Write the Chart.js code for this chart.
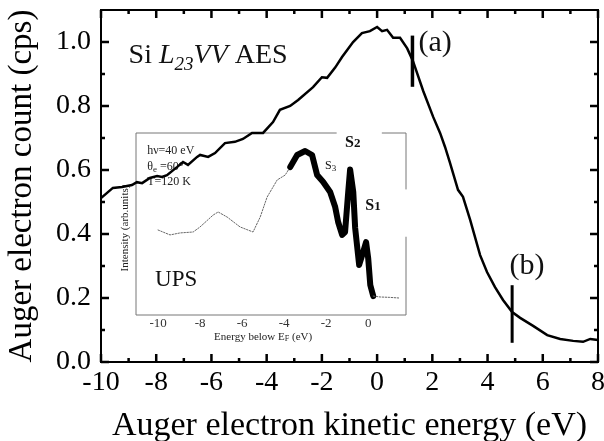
<!DOCTYPE html>
<html>
<head>
<meta charset="utf-8">
<script src="https://cdn.jsdelivr.net/npm/chart.js@4.4.1/dist/chart.umd.min.js"></script>
<style>
  html, body { margin: 0; padding: 0; background: #fff; }
  #wrap { position: relative; width: 604px; height: 441px; }
  #mainChart { position: absolute; left: 0; top: 0; z-index: 2; }
  #insetChart { position: absolute; left: 115px; top: 128px; z-index: 1; }
</style>
</head>
<body>
<div id="wrap">
  <canvas id="insetChart" width="300" height="222"></canvas>
  <canvas id="mainChart" width="604" height="441"></canvas>
</div>
<script>
// Si L23VV Auger spectrum (main plot)
const energy = [-10, -9.57, -9.24, -8.88, -8.70, -8.51, -8.23, -7.97, -7.79, -7.61, -7.25, -7.03, -6.85,
  -6.52, -6.41, -6.12, -5.87, -5.51, -5.15, -4.86, -4.53, -4.13, -3.77, -3.52, -3.15, -2.86, -2.32,
  -2.0, -1.81, -1.52, -1.27, -0.87, -0.55, -0.26, 0.0, 0.18, 0.36, 0.58, 0.83, 1.09, 1.30, 1.67,
  2.03, 2.28, 2.46, 2.64, 2.93, 3.11, 3.37, 3.73, 3.98, 4.27, 4.56, 4.89, 5.18, 5.65, 6.16, 6.63,
  7.10, 7.46, 7.72, 8.0];
const counts = [0.512, 0.544, 0.547, 0.553, 0.562, 0.559, 0.575, 0.581, 0.578, 0.584, 0.609, 0.625, 0.616,
  0.641, 0.647, 0.641, 0.653, 0.684, 0.688, 0.697, 0.716, 0.716, 0.750, 0.788, 0.800, 0.819, 0.859,
  0.890, 0.888, 0.920, 0.953, 1.000, 1.028, 1.034, 1.047, 1.034, 1.038, 1.013, 1.013, 0.980, 0.940, 0.847,
  0.766, 0.716, 0.672, 0.622, 0.538, 0.516, 0.444, 0.334, 0.281, 0.234, 0.194, 0.156, 0.138, 0.113, 0.084, 0.072,
  0.066, 0.063, 0.072, 0.069];

// vertical markers (a) and (b)
const markerAX = [1.28, 1.28];
const markerAY = [0.86, 1.02];
const markerBX = [4.89, 4.89];
const markerBY = [0.06, 0.24];

const xRange = [-10, 8];
const yRange = [0, 1.1];
const xTicks = [-10, -8, -6, -4, -2, 0, 2, 4, 6, 8];
const xMinor = [-9, -7, -5, -3, -1, 1, 3, 5, 7];
const yTicks = [0, 0.2, 0.4, 0.6, 0.8, 1.0];
const yMinor = [0.1, 0.3, 0.5, 0.7, 0.9];

// UPS inset
const upsEnergy = [-10, -9.43, -8.95, -8.33, -8.0, -7.38, -7.14, -6.71, -6.1, -5.48, -5.14, -4.81, -4.33,
  -3.95, -3.71, -3.38, -3.0, -2.67, -2.43, -2.14, -1.81, -1.57, -1.43, -1.24, -1.10, -0.95, -0.86, -0.71,
  -0.62, -0.43, -0.24, -0.10, 0.0, 0.10, 0.24, 0.57, 1.0, 1.52];
const upsIntensity = [4.67, 4.40, 4.51, 4.56, 4.84, 5.49, 5.66, 5.38, 4.84, 4.56, 5.38, 6.48, 7.42,
  7.69, 8.13, 8.79, 9.01, 8.79, 7.69, 7.31, 6.76, 5.93, 5.11, 4.40, 4.56, 6.76, 8.0, 6.76,
  4.78, 2.75, 3.46, 4.01, 3.13, 1.65, 1.04, 0.99, 0.97, 0.93];
const upsTicks = [-10, -8, -6, -4, -2, 0];

const serif = "'Liberation Serif', 'Times New Roman', serif";

function toPoints(xs, ys) {
  return xs.map((x, i) => ({ x: x, y: ys[i] }));
}

// frame of the plot box, from the axis limits
const framePts = toPoints(
  [xRange[0], xRange[1], xRange[1], xRange[0], xRange[0]],
  [yRange[0], yRange[0], yRange[1], yRange[1], yRange[0]]
);

// inward tick marks on all four sides (8 px major, 4 px minor)
const pxPerEv = 497 / 18, pxPerCount = 352 / 1.1;
function tickPoints() {
  const pts = [];
  const addX = (v, len) => {
    const d = len / pxPerCount;
    pts.push({ x: v, y: yRange[0] }, { x: v, y: yRange[0] + d }, { x: v, y: null });
    pts.push({ x: v, y: yRange[1] }, { x: v, y: yRange[1] - d }, { x: v, y: null });
  };
  const addY = (v, len) => {
    const d = len / pxPerEv;
    pts.push({ x: xRange[0], y: v }, { x: xRange[0] + d, y: v }, { x: xRange[0], y: null });
    pts.push({ x: xRange[1], y: v }, { x: xRange[1] - d, y: v }, { x: xRange[1], y: null });
  };
  xTicks.forEach(v => addX(v, 8));
  xMinor.forEach(v => addX(v, 4));
  yTicks.forEach(v => addY(v, 8));
  yMinor.forEach(v => addY(v, 4));
  return pts;
}

// draw text with a lowered, smaller part (subscript)
function drawPieces(ctx, x, y, pieces) {
  pieces.forEach(p => {
    ctx.font = p.font;
    ctx.fillText(p.text, x, y + (p.dy || 0));
    x += ctx.measureText(p.text).width;
  });
}

const mainDecor = {
  id: 'mainDecor',
  afterDraw(chart) {
    const ctx = chart.ctx;
    const x = chart.scales.x, y = chart.scales.y;
    ctx.save();
    ctx.fillStyle = '#111';
    ctx.textBaseline = 'alphabetic';
    ctx.textAlign = 'left';
    drawPieces(ctx, x.getPixelForValue(-9.0), y.getPixelForValue(0.934), [
      { text: 'Si ', font: '28px ' + serif },
      { text: 'L', font: 'italic 28px ' + serif },
      { text: '23', font: 'italic 19px ' + serif, dy: 7 },
      { text: 'VV', font: 'italic 28px ' + serif },
      { text: ' AES', font: '28px ' + serif }
    ]);
    ctx.font = '30px ' + serif;
    ctx.textAlign = 'center';
    ctx.textBaseline = 'middle';
    ctx.fillText('(a)', x.getPixelForValue(2.1), y.getPixelForValue(0.997));
    ctx.fillText('(b)', x.getPixelForValue(5.43), y.getPixelForValue(0.30));
    ctx.restore();
  }
};

new Chart(document.getElementById('mainChart'), {
  type: 'line',
  data: {
    datasets: [
      { data: toPoints(energy, counts), borderColor: '#000', borderWidth: 2.5, pointRadius: 0, tension: 0 },
      { data: toPoints(markerAX, markerAY), borderColor: '#000', borderWidth: 3.5, pointRadius: 0 },
      { data: toPoints(markerBX, markerBY), borderColor: '#000', borderWidth: 3, pointRadius: 0 },
      { data: framePts, borderColor: '#000', borderWidth: 2, pointRadius: 0, clip: false,
        borderJoinStyle: 'miter', borderCapStyle: 'square' },
      { data: tickPoints(), borderColor: '#000', borderWidth: 2.5, pointRadius: 0, clip: false,
        spanGaps: false, borderCapStyle: 'butt' }
    ]
  },
  options: {
    responsive: false,
    animation: false,
    layout: { padding: { top: 10, right: 6, left: 0, bottom: 0 } },
    plugins: { legend: { display: false }, tooltip: { enabled: false } },
    scales: {
      x: {
        type: 'linear', min: xRange[0], max: xRange[1],
        afterBuildTicks: s => { s.ticks = xTicks.map(v => ({ value: v })); },
        afterFit: s => { s.height = 79; s.paddingLeft = 0; s.paddingRight = 0; },
        grid: { display: false, drawTicks: false },
        border: { display: false },
        ticks: { font: { family: serif, size: 28 }, color: '#000', padding: 4, maxRotation: 0, autoSkip: false },
        title: { display: true, text: 'Auger electron kinetic energy (eV)', color: '#000',
          font: { family: serif, size: 34, lineHeight: 0.9 }, padding: 0 }
      },
      y: {
        type: 'linear', min: yRange[0], max: yRange[1],
        afterBuildTicks: s => { s.ticks = yTicks.map(v => ({ value: v })); },
        afterFit: s => { s.width = 101; s.paddingTop = 0; s.paddingBottom = 0; },
        grid: { display: false, drawTicks: false },
        border: { display: false },
        ticks: { font: { family: serif, size: 28 }, color: '#000', padding: 10, callback: v => v.toFixed(1) },
        title: { display: true, text: 'Auger electron count (cps)', color: '#000',
          font: { family: serif, size: 33 }, padding: { top: 3, bottom: 0 } }
      }
    }
  },
  plugins: [mainDecor]
});

// inset decorations: frame, notes, axis titles
const insetDecor = {
  id: 'insetDecor',
  afterDraw(chart) {
    const { ctx, chartArea: a, scales: { x, y } } = chart;
    ctx.save();
    ctx.strokeStyle = '#777';
    ctx.lineWidth = 1;
    ctx.beginPath();
    ctx.moveTo(a.left, a.top); ctx.lineTo(a.left, a.bottom); ctx.lineTo(a.right, a.bottom);
    ctx.lineTo(a.right, y.getPixelForValue(4.3));
    ctx.moveTo(a.right, y.getPixelForValue(6.9)); ctx.lineTo(a.right, a.top);
    ctx.lineTo(x.getPixelForValue(0.65), a.top);
    ctx.moveTo(x.getPixelForValue(-1.5), a.top); ctx.lineTo(a.left, a.top);
    ctx.stroke();

    ctx.fillStyle = '#222';
    ctx.textAlign = 'left';
    ctx.textBaseline = 'middle';
    ctx.font = '12px ' + serif;
    const lx = x.getPixelForValue(-10.52);
    ctx.fillText('h\u03bd=40 eV', lx, y.getPixelForValue(9.0));
    drawPieces(ctx, lx, y.getPixelForValue(8.13), [
      { text: '\u03b8', font: '12px ' + serif },
      { text: 'e', font: '9px ' + serif, dy: 3 },
      { text: ' =60\u00b0', font: '12px ' + serif }
    ]);
    ctx.font = '12px ' + serif;
    ctx.fillText('T=120 K', lx, y.getPixelForValue(7.3));

    ctx.fillStyle = '#111';
    ctx.font = '23px ' + serif;
    ctx.fillText('UPS', x.getPixelForValue(-10.14), y.getPixelForValue(1.92));

    drawPieces(ctx, x.getPixelForValue(-1.1), y.getPixelForValue(9.45), [
      { text: 'S', font: 'bold 16px ' + serif },
      { text: '2', font: 'bold 13px ' + serif, dy: 1 }
    ]);
    drawPieces(ctx, x.getPixelForValue(-0.14), y.getPixelForValue(6.0), [
      { text: 'S', font: 'bold 16px ' + serif },
      { text: '1', font: 'bold 13px ' + serif, dy: 1 }
    ]);
    drawPieces(ctx, x.getPixelForValue(-2.05), y.getPixelForValue(8.19), [
      { text: 'S', font: '12px ' + serif },
      { text: '3', font: '9px ' + serif, dy: 3 }
    ]);

    // axis titles
    ctx.fillStyle = '#222';
    ctx.textAlign = 'left';
    const xt = '11px ' + serif;
    ctx.font = xt;
    const w1 = ctx.measureText('Energy below E').width;
    ctx.font = '8px ' + serif;
    const w2 = ctx.measureText('F').width;
    ctx.font = xt;
    const w3 = ctx.measureText(' (eV)').width;
    drawPieces(ctx, x.getPixelForValue(-5.0) - (w1 + w2 + w3) / 2, a.bottom + 22, [
      { text: 'Energy below E', font: xt },
      { text: 'F', font: '8px ' + serif, dy: 2 },
      { text: ' (eV)', font: xt }
    ]);
    ctx.translate(10, y.getPixelForValue(4.78));
    ctx.rotate(-Math.PI / 2);
    ctx.textAlign = 'center';
    ctx.font = xt;
    ctx.fillText('Intensity (arb.units)', 0, 0);
    ctx.restore();
  }
};

new Chart(document.getElementById('insetChart'), {
  type: 'line',
  data: {
    datasets: [{
      data: toPoints(upsEnergy, upsIntensity),
      pointRadius: 0,
      borderColor: '#000',
      borderWidth: 1,
      borderJoinStyle: 'round',
      borderCapStyle: 'round',
      segment: {
        borderWidth: c => (c.p0.parsed.x >= -3.75 && c.p1.parsed.x <= 0.3) ? 6 : 1,
        borderDash: c => (c.p0.parsed.x >= -3.75 && c.p1.parsed.x <= 0.3) ? [] : [1.5, 1.5],
        borderColor: c => (c.p0.parsed.x >= -3.75 && c.p1.parsed.x <= 0.3) ? '#000' : '#666'
      }
    }]
  },
  options: {
    responsive: false,
    animation: false,
    layout: { padding: { top: 5, right: 9, left: 0, bottom: 0 } },
    plugins: { legend: { display: false }, tooltip: { enabled: false } },
    scales: {
      x: {
        type: 'linear', min: -11.05, max: 1.8,
        afterBuildTicks: s => { s.ticks = upsTicks.map(v => ({ value: v })); },
        afterFit: s => { s.height = 35; s.paddingLeft = 0; s.paddingRight = 0; },
        grid: { display: false, drawTicks: false },
        border: { display: false },
        ticks: { font: { family: serif, size: 13 }, color: '#333', padding: 1, maxRotation: 0, autoSkip: false }
      },
      y: {
        type: 'linear', min: 0, max: 10,
        afterFit: s => { s.width = 21; s.paddingTop = 0; s.paddingBottom = 0; },
        grid: { display: false, drawTicks: false },
        border: { display: false },
        ticks: { display: false }
      }
    }
  },
  plugins: [insetDecor]
});
</script>
</body>
</html>
